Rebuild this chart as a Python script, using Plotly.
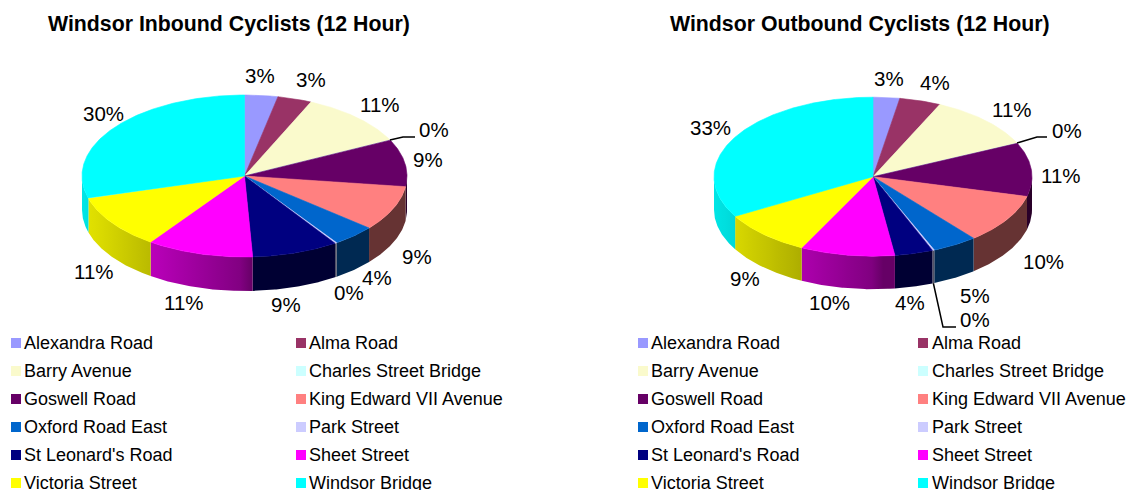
import numpy as np
import plotly.graph_objects as go

W, H = 1132, 490
FONT = "Liberation Sans, Arial, sans-serif"

categories = ["Alexandra Road", "Alma Road", "Barry Avenue", "Charles Street Bridge",
              "Goswell Road", "King Edward VII Avenue", "Oxford Road East", "Park Street",
              "St Leonard's Road", "Sheet Street", "Victoria Street", "Windsor Bridge"]
colors = ["#9999FF", "#993366", "#FAFACC", "#CCFFFF", "#660066", "#FF8080",
          "#0066CC", "#CCCCFF", "#000080", "#FF00FF", "#FFFF00", "#00FFFF"]
inbound = [3.3, 3.4, 10.9, 0.1, 9.4, 9.0, 4.3, 0.2, 8.6, 10.6, 10.7, 29.5]
outbound = [2.7, 4.2, 11.1, 0.1, 10.9, 10.1, 4.6, 0.2, 3.9, 9.6, 9.3, 33.3]
inbound_labels = ["3%", "3%", "11%", "0%", "9%", "9%", "4%", "0%", "9%", "11%", "11%", "30%"]
outbound_labels = ["3%", "4%", "11%", "0%", "11%", "10%", "5%", "0%", "4%", "10%", "9%", "33%"]

# layout, in page pixels
PIES = [
    dict(values=inbound, labels=inbound_labels, title="Windsor Inbound Cyclists (12 Hour)", title_x=229,
         cx=244.5, cy=176, rx=162.5, ry=81, depth=34, px0=0, px1=520,
         label_pos=[(260, 76), (311, 80), (380, 104), (434, 129), (428, 159), (417, 256),
                    (377, 277), (349, 292), (286, 304), (184, 302), (94, 271), (103, 113)],
         leaders={3: [(403, 137), (415, 137)]}),
    dict(values=outbound, labels=outbound_labels, title="Windsor Outbound Cyclists (12 Hour)", title_x=860,
         cx=873, cy=176.7, rx=159, ry=79.5, depth=33, px0=610, px1=1132,
         label_pos=[(889, 79), (935, 82), (1012, 109), (1067, 130), (1061, 175), (1043, 261),
                    (975, 295), (975, 319), (910, 302), (829, 302), (745, 278), (710, 127)],
         leaders={3: [(1037, 137), (1047, 137)], 7: [(943, 327), (956, 327)]}),
]
PY0, PY1 = 40, 335
LEGENDS = [[(16, 24), (301, 309)], [(643, 651), (923, 932)]]
ROW0, ROW_STEP = 343, 28


def shade(color, f):
    r, g, b = [int(color[i:i + 2], 16) for i in (1, 3, 5)]
    return f"rgb({round(r * f)},{round(g * f)},{round(b * f)})"


def side_factor(u):
    return 0.5 + 0.4 * abs(u) if u < 0 else 0.4


fig = go.Figure()
annotations, layout_axes = [], {}

for n, p in enumerate(PIES):
    ax = "" if n == 0 else "2"
    xa, ya = f"x{ax}", f"y{ax}"
    tilt = p["ry"] / p["rx"]
    depth = p["depth"] / p["rx"]
    layout_axes[f"xaxis{ax}"] = dict(domain=[p["px0"] / W, p["px1"] / W], visible=False, fixedrange=True,
                                     range=[(p["px0"] - p["cx"]) / p["rx"], (p["px1"] - p["cx"]) / p["rx"]])
    layout_axes[f"yaxis{ax}"] = dict(domain=[1 - PY1 / H, 1 - PY0 / H], visible=False, fixedrange=True,
                                     range=[(p["cy"] - PY1) / p["rx"], (p["cy"] - PY0) / p["rx"]])
    edges = np.concatenate([[0], np.cumsum(p["values"])]) / np.sum(p["values"]) * 360

    # side walls first
    for i, c in enumerate(colors):
        a, b = max(edges[i], 90), min(edges[i + 1], 270)
        if b <= a:
            continue
        t = np.radians(np.linspace(a, b, max(int(b - a) * 2, 2)))
        xs = np.sin(t)
        ys = tilt * np.cos(t)
        x = np.concatenate([xs, xs[::-1], xs[:1]])
        y = np.concatenate([ys, ys[::-1] - depth, ys[:1]])
        lo, hi = xs.min(), xs.max()
        kw = dict(fillcolor=shade(c, side_factor((lo + hi) / 2)))
        if hi - lo > 0.01 and lo < 0:
            stops = np.linspace(0, 1, 9)
            kw = dict(fillgradient=dict(type="horizontal", colorscale=[
                [float(s), shade(c, side_factor(lo + s * (hi - lo)))] for s in stops]))
        fig.add_trace(go.Scatter(x=x, y=y, xaxis=xa, yaxis=ya, mode="lines", fill="toself",
                                 line=dict(width=0, color=shade(c, 0.5)), name=categories[i] + " side",
                                 hoverinfo="skip", showlegend=False, **kw))
    # top faces
    for i, c in enumerate(colors):
        t = np.radians(np.linspace(edges[i], edges[i + 1], max(int(edges[i + 1] - edges[i]) * 2, 2)))
        x = np.concatenate([[0], np.sin(t), [0]])
        y = np.concatenate([[0], tilt * np.cos(t), [0]])
        fig.add_trace(go.Scatter(x=x, y=y, xaxis=xa, yaxis=ya, mode="lines", fill="toself", fillcolor=c,
                                 line=dict(width=0.6, color=c), name=categories[i],
                                 text=f"{categories[i]}: {p['labels'][i]}", hoverinfo="text", showlegend=False))
    # leader lines
    for i, pts in p["leaders"].items():
        mid = np.radians((edges[i] + edges[i + 1]) / 2)
        dz = depth if 90 < np.degrees(mid) < 270 else 0
        lx = [np.sin(mid)] + [(q[0] - p["cx"]) / p["rx"] for q in pts]
        ly = [tilt * np.cos(mid) - dz] + [(p["cy"] - q[1]) / p["rx"] for q in pts]
        fig.add_trace(go.Scatter(x=lx, y=ly, xaxis=xa, yaxis=ya, mode="lines",
                                 line=dict(width=1.5, color="black"), hoverinfo="skip", showlegend=False))
    # percentage labels
    for text, (lx, ly) in zip(p["labels"], p["label_pos"]):
        annotations.append(dict(text=text, x=lx / W, y=1 - ly / H, xref="paper", yref="paper", showarrow=False,
                                xanchor="center", yanchor="middle", font=dict(family=FONT, size=20.5, color="black")))
    annotations.append(dict(text=f"<b>{p['title']}</b>", x=p["title_x"] / W, y=1 - 24 / H, xref="paper", yref="paper",
                            showarrow=False, xanchor="center", yanchor="middle",
                            font=dict(family=FONT, size=21.3, color="black")))

# hand-built legends (two columns, six rows each)
layout_axes["xaxis3"] = dict(domain=[0, 1], range=[0, W], visible=False, fixedrange=True)
layout_axes["yaxis3"] = dict(domain=[0, 1], range=[(H - ROW0) / ROW_STEP, -ROW0 / ROW_STEP],
                             visible=False, fixedrange=True)
for cols in LEGENDS:
    for i, (cat, c) in enumerate(zip(categories, colors)):
        sx, tx = cols[i % 2]
        row = i // 2
        fig.add_trace(go.Scatter(x=[sx], y=[row], xaxis="x3", yaxis="y3", mode="markers",
                                 marker=dict(symbol="square", size=10, color=c, line=dict(width=0)),
                                 name=cat, hoverinfo="skip", showlegend=False, cliponaxis=False))
        annotations.append(dict(text=cat, x=tx, y=row, xref="x3", yref="y3", showarrow=False, xanchor="left",
                                yanchor="middle", xshift=-2, font=dict(family=FONT, size=18, color="black")))

fig.update_layout(width=W, height=H, margin=dict(l=0, r=0, t=0, b=0), paper_bgcolor="white",
                  plot_bgcolor="rgba(0,0,0,0)",
                  showlegend=False, annotations=annotations, font=dict(family=FONT), **layout_axes)

fig.write_html("out.html", config=dict(displayModeBar=False),
               post_script="document.body.style.margin='0';document.documentElement.style.overflow='hidden';")
